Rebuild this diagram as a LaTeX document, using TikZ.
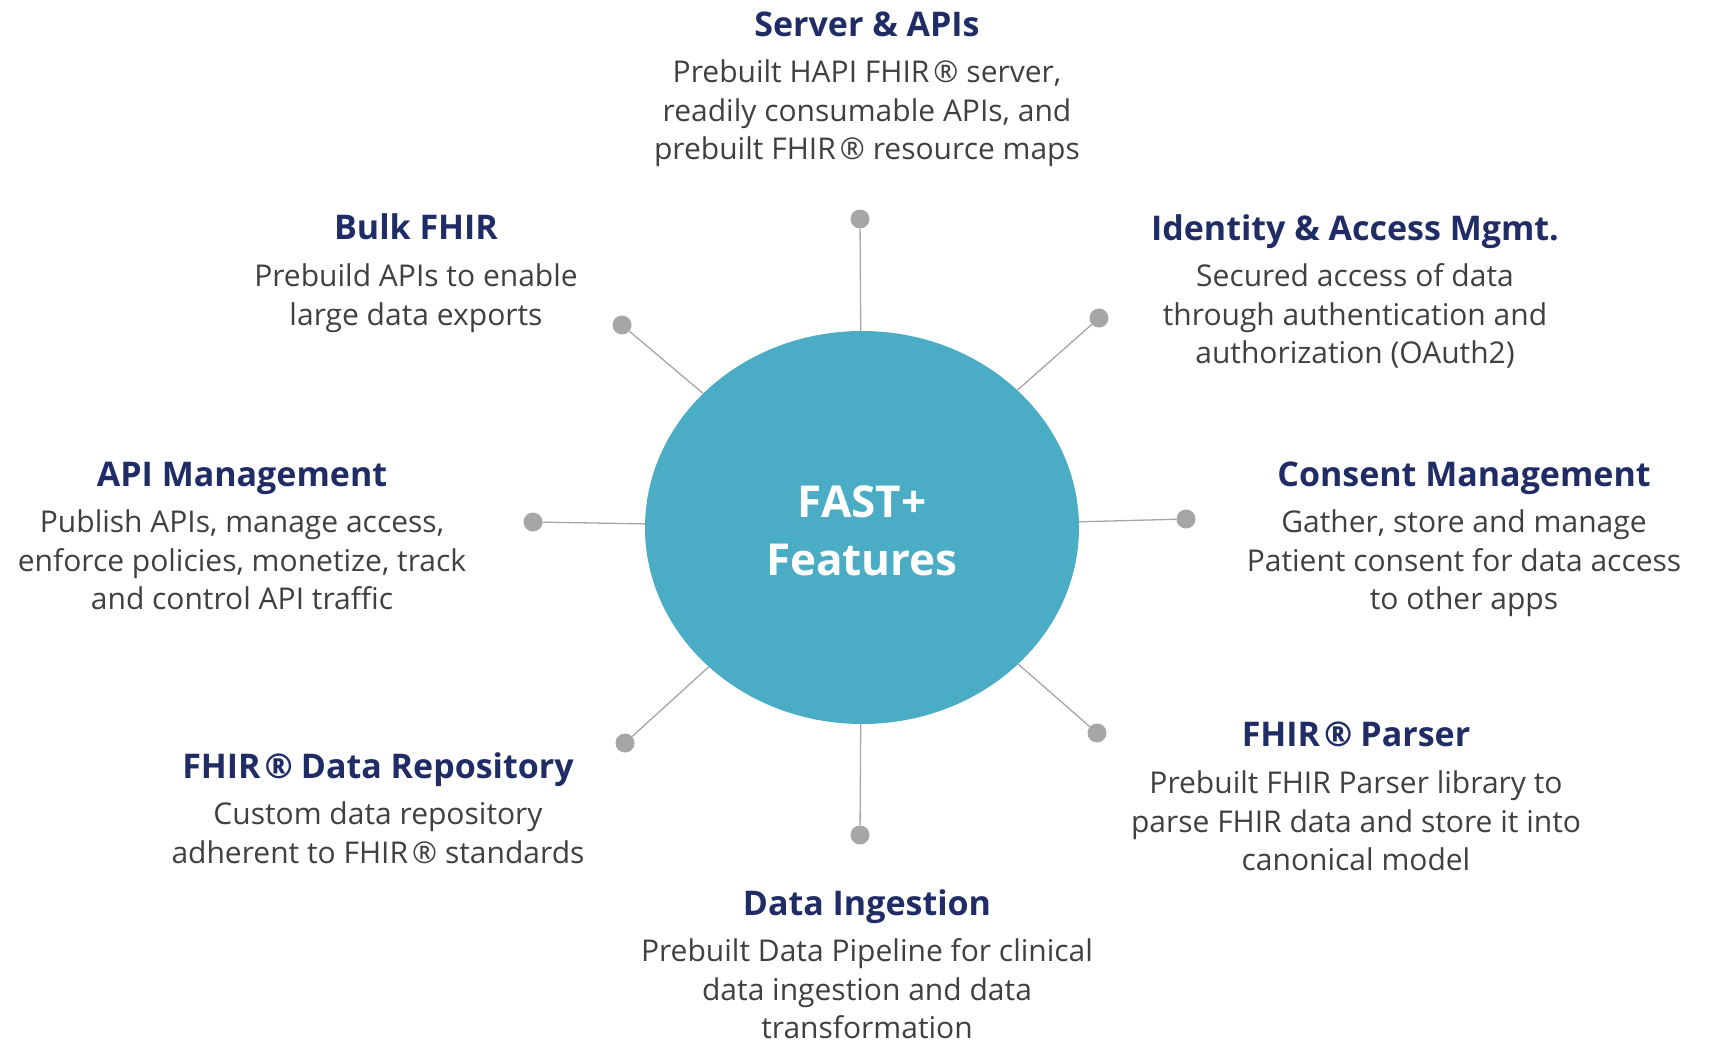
\documentclass[tikz,border=0pt]{standalone}
\usepackage{fontspec}
\setmainfont{Open Sans}
\usetikzlibrary{shapes.geometric}
\definecolor{navy}{HTML}{1F2C66}
\definecolor{bodygray}{HTML}{404040}
\definecolor{hubblue}{HTML}{4BACC6}
\definecolor{linegray}{HTML}{A6A6A6}
\newcommand{\reg}{\kern4pt®\kern8pt}
\begin{document}
\begin{tikzpicture}[x=1pt,y=-1pt,
  ttl/.style={font=\fontsize{34}{40}\selectfont\bfseries, text=navy, inner sep=0pt, anchor=base},
  bdy/.style={font=\fontsize{30}{38.5}\selectfont, text=bodygray, align=center, inner sep=0pt, anchor=north},
  knob/.style={circle, fill=linegray, minimum size=19pt, inner sep=0pt},
  spoke/.style={draw=linegray, line width=1.3pt},
  hubstyle/.style={ellipse, fill=hubblue, minimum width=434pt, minimum height=393pt, inner sep=0pt,
    text=white, align=center, font=\fontsize{44}{58}\selectfont\bfseries}]
\useasboundingbox (0,0) rectangle (1720,1044);

% hub
\node[hubstyle] (hub) at (862,527.5) {};
\node[text=white, align=center, font=\fontsize{44}{58}\selectfont\bfseries, inner sep=0pt] (hubtext) at (862,531) {FAST+\\Features};

% dots
\node[knob] (d1) at (860,219) {};
\node[knob] (d2) at (1099,318) {};
\node[knob] (d3) at (1186,519) {};
\node[knob] (d4) at (1097,733) {};
\node[knob] (d5) at (860,835) {};
\node[knob] (d6) at (625,743) {};
\node[knob] (d7) at (533,522) {};
\node[knob] (d8) at (622,325) {};

\foreach \d in {d1,d2,d3,d4,d5,d6,d7,d8} \draw[spoke] (\d) -- (hub);

% Server & APIs
\node[ttl] (t1) at (867,36.5) {Server \& APIs};
\node[bdy] (b1) at (867,55.5) {\strut Prebuilt HAPI FHIR\reg server,\\\strut readily consumable APIs, and\\\strut prebuilt FHIR\reg resource maps};

% Identity
\node[ttl] (t2) at (1355,240.5) {Identity \& Access Mgmt.};
\node[bdy] (b2) at (1355,259.5) {\strut Secured access of data\\\strut through authentication and\\\strut authorization (OAuth2)};

% Consent
\node[ttl] (t3) at (1464,486.5) {Consent Management};
\node[bdy] (b3) at (1464,505.5) {\strut Gather, store and manage\\\strut Patient consent for data access\\\strut to other apps};

% Parser
\node[ttl] (t4) at (1356,746.5) {FHIR\reg Parser};
\node[bdy] (b4) at (1356,766.5) {\strut Prebuilt FHIR Parser library to\\\strut parse FHIR data and store it into\\\strut canonical model};

% Ingestion
\node[ttl] (t5) at (867,915.5) {Data Ingestion};
\node[bdy] (b5) at (867,934.5) {\strut Prebuilt Data Pipeline for clinical\\\strut data ingestion and data\\\strut transformation};

% Repository
\node[ttl] (t6) at (378,778.5) {FHIR\reg Data Repository};
\node[bdy] (b6) at (378,797.5) {\strut Custom data repository\\\strut adherent to FHIR\reg standards};

% API Management
\node[ttl] (t7) at (242,486.5) {API Management};
\node[bdy] (b7) at (242,505.5) {\strut Publish APIs, manage access,\\\strut enforce policies, monetize, track\\\strut and control API traffic};

% Bulk FHIR
\node[ttl] (t8) at (416,239.5) {Bulk FHIR};
\node[bdy] (b8) at (416,259.5) {\strut Prebuild APIs to enable\\\strut large data exports};
\end{tikzpicture}
\end{document}
